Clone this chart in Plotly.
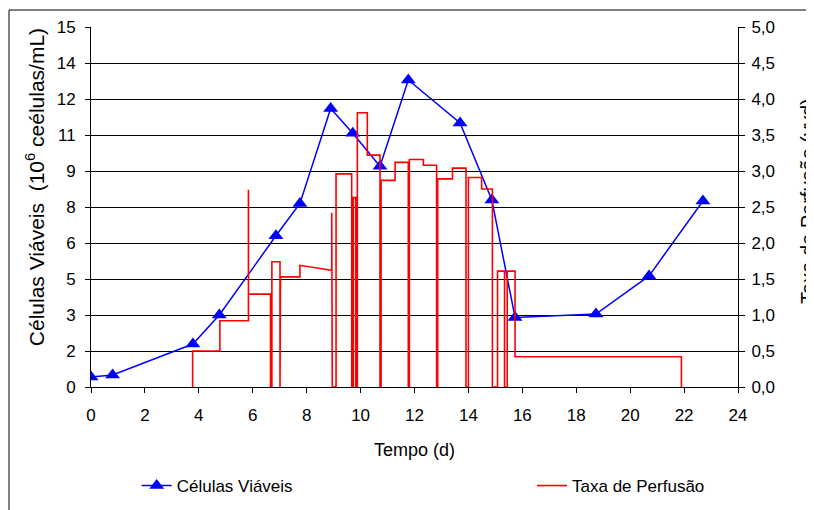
import plotly.graph_objects as go

# Viable cells (10^6 cells/mL) vs time (d)
cell_day = [0, 0.8, 3.78, 4.76, 6.86, 7.75, 8.89, 9.71, 10.72, 11.77, 13.69, 14.87, 15.73, 18.73, 20.7, 22.7]
cell_viable = [0.42, 0.5, 1.79, 3.0, 6.3, 7.65, 11.6, 10.57, 9.2, 12.79, 11.0, 7.79, 2.9, 3.04, 4.63, 7.75]

# Perfusion rate (vvd) – step trace vertices
perf_day = [3.77, 3.77, 4.78, 4.78, 5.84, 5.84, 5.84, 6.66, 6.66, 6.71, 6.71, 7.01, 7.01, 7.03, 7.03,
            7.75, 7.75, 8.93, 8.93, 8.95, 8.95, 9.09, 9.09, 9.67, 9.67, 9.73, 9.73, 9.82, 9.82,
            9.88, 9.88, 10.25, 10.25, 10.72, 10.72, 10.76, 10.76, 11.28, 11.28, 11.77, 11.77,
            11.81, 11.81, 12.33, 12.33, 12.82, 12.82, 12.86, 12.86, 13.41, 13.41, 13.91, 13.91,
            14.0, 14.0, 14.49, 14.49, 14.89, 14.89, 15.08, 15.08, 15.34, 15.34, 15.44, 15.44,
            15.73, 15.73, 21.9, 21.9]
perf_rate = [0, 0.5, 0.5, 0.92, 0.92, 2.74, 1.29, 1.29, 0, 0, 1.74, 1.74, 0, 0, 1.53,
             1.53, 1.69, 1.62, 2.42, 2.42, 0, 0, 2.96, 2.96, 0, 0, 2.63, 2.63, 0,
             0, 3.81, 3.81, 3.22, 3.22, 0, 0, 2.87, 2.87, 3.12, 3.12, 0,
             0, 3.16, 3.16, 3.08, 3.08, 0, 0, 2.89, 2.89, 3.04, 3.04, 0,
             0, 2.91, 2.91, 2.75, 2.75, 0, 0, 1.61, 1.61, 0, 0, 1.61,
             1.61, 0.42, 0.42, 0]

left_tickvals = [0, 1.5, 3, 4.5, 6, 7.5, 9, 10.5, 12, 13.5, 15]
left_ticktext = ["0", "2", "3", "5", "6", "8", "9", "11", "12", "14", "15"]
right_tickvals = [0, 0.5, 1, 1.5, 2, 2.5, 3, 3.5, 4, 4.5, 5]
right_ticktext = ["0,0", "0,5", "1,0", "1,5", "2,0", "2,5", "3,0", "3,5", "4,0", "4,5", "5,0"]
x_tickvals = [0, 2, 4, 6, 8, 10, 12, 14, 16, 18, 20, 22, 24]

FONT = "Liberation Sans, Arial, sans-serif"

fig = go.Figure()
fig.add_trace(go.Scatter(
    x=perf_day, y=perf_rate, yaxis="y2", mode="lines",
    line=dict(color="#ff0000", width=1.6),
    name="Taxa de Perfusão", legend="legend2",
))
fig.add_trace(go.Scatter(
    x=cell_day, y=cell_viable, mode="lines+markers",
    line=dict(color="#0000ff", width=1.5),
    marker=dict(symbol="triangle-up", size=13, color="#0000ff"),
    name="Células Viáveis", legend="legend",
))

# the page body adds an 8px offset, so margins are shifted to compensate
fig.update_layout(
    width=814, height=510,
    margin=dict(l=83, r=84, t=19, b=131, autoexpand=False),
    paper_bgcolor="white", plot_bgcolor="white",
    font=dict(family=FONT, size=17, color="black"),
    xaxis=dict(range=[0, 24], tickvals=x_tickvals, showgrid=False, zeroline=False,
               showline=True, linecolor="black", linewidth=1, automargin=False,
               ticks="outside", ticklen=5, tickcolor="black",
               ticklabelstandoff=8, tickfont=dict(size=17)),
    yaxis=dict(range=[0, 15], tickvals=left_tickvals, ticktext=left_ticktext,
               showgrid=True, gridcolor="#000000", gridwidth=1, zeroline=False,
               showline=True, linecolor="black", linewidth=1, automargin=False,
               ticks="outside", ticklen=5, tickcolor="black",
               ticklabelstandoff=6, tickfont=dict(size=17)),
    yaxis2=dict(range=[0, 5], tickvals=right_tickvals, ticktext=right_ticktext,
                overlaying="y", side="right", showgrid=False, zeroline=False,
                showline=True, linecolor="black", linewidth=1, automargin=False,
                ticks="outside", ticklen=6, tickcolor="black",
                ticklabelstandoff=3, tickfont=dict(size=17)),
    legend=dict(orientation="h", x=0.0706, y=-0.275, xanchor="left", yanchor="middle",
                font=dict(size=17), bgcolor="rgba(0,0,0,0)"),
    legend2=dict(orientation="h", x=0.6816, y=-0.275, xanchor="left", yanchor="middle",
                 font=dict(size=17), bgcolor="rgba(0,0,0,0)"),
    showlegend=True,
)

fig.add_annotation(text="Células Viáveis  (10<sup>6</sup> ceélulas/mL)", textangle=-90,
                   xref="paper", yref="paper", x=-0.0866, y=0.555,
                   xanchor="center", yanchor="middle", showarrow=False,
                   font=dict(size=21))
fig.add_annotation(text="Taxa de Perfusão (vvd)", textangle=-90,
                   xref="paper", yref="paper", x=1.1082, y=0.517,
                   xanchor="center", yanchor="middle", showarrow=False,
                   font=dict(size=20))
fig.add_annotation(text="Tempo (d)", xref="paper", yref="paper", x=0.5, y=-0.175,
                   xanchor="center", yanchor="middle", showarrow=False,
                   font=dict(size=18))

# chart-area frame
fig.add_shape(type="rect", xref="paper", yref="paper",
              x0=-0.1267, y0=-0.4, x1=1.2, y1=1.0472,
              line=dict(color="black", width=1), fillcolor="rgba(0,0,0,0)", layer="below")

fig.write_html("out.html")
